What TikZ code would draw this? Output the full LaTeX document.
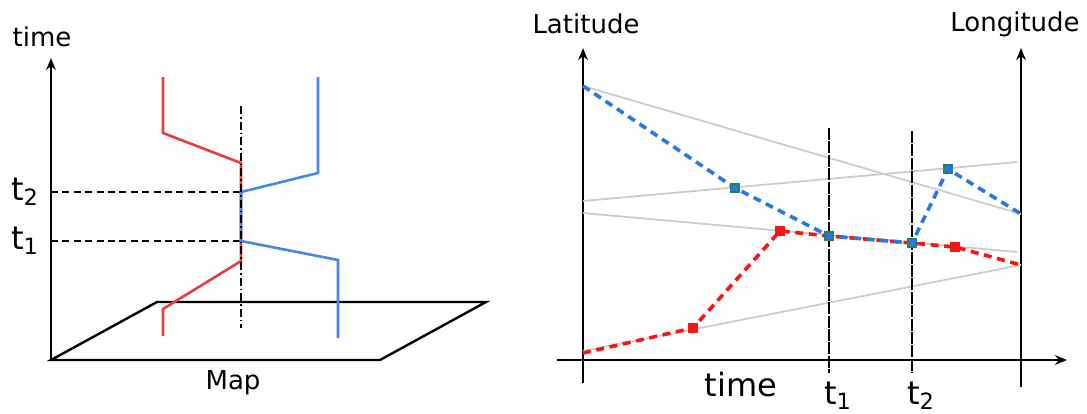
\documentclass[tikz,border=0pt]{standalone}
\usepackage{xcolor}
\usepackage{fontspec}
\setmainfont{DejaVu Sans}
\usepackage{tikz}
\usetikzlibrary{arrows.meta}

\definecolor{trajred}{RGB}{232,62,58}
\definecolor{trajblue}{RGB}{72,134,232}
\definecolor{ptred}{RGB}{250,20,20}
\definecolor{ptblue}{RGB}{40,120,230}
\definecolor{ptgreen}{RGB}{30,130,110}
\definecolor{track}{RGB}{205,205,205}

\begin{document}
\begin{tikzpicture}[x=0.5pt,y=-0.5pt,
    axis/.style={line width=1.3pt,-{Stealth[length=6pt,width=4.8pt]}},
    mapline/.style={line width=1.2pt},
    level/.style={line width=1.2pt,dash pattern=on 3.5pt off 2.2pt},
    cut/.style={line width=1.2pt,dash pattern=on 6pt off 0.7pt},
    tracegray/.style={line width=0.9pt,track},
    redpath/.style={line width=1.8pt,ptred,dash pattern=on 4pt off 2.8pt},
    bluepath/.style={line width=1.8pt,ptblue,dash pattern=on 4pt off 2.8pt},
    redpt/.style={fill=ptred,inner sep=0pt,minimum size=5pt},
    bluept/.style={draw=ptgreen,fill=ptblue,line width=0.8pt,inner sep=0pt,minimum size=4.2pt},
    lbl/.style={font=\fontsize{13}{15}\selectfont},
    biglbl/.style={font=\fontsize{16}{18}\selectfont}]
\useasboundingbox (0,0) rectangle (1087,413);

% left: space-time view
\coordinate (o) at (51,360);
\draw[mapline] (o) -- (380,360) -- (486,302) -- (157,302) -- cycle;
\draw[axis] (o) -- (51,58) coordinate (otop);
\node[lbl] (timeleft) at (42,37) {time};
\node[lbl] (map) at (233,383) {Map};

\coordinate (lt2) at (241,192);
\coordinate (lt1) at (241,241);
\node[biglbl] (labt2) at (25,192) {t\textsubscript{2}};
\node[biglbl] (labt1) at (25,241) {t\textsubscript{1}};
\draw[level] (labt2 -| o) -- (lt2);
\draw[level] (labt1 -| o) -- (lt1);

\draw[trajred,line width=1.3pt] (163,77) -- (163,133) -- (241,163) -- (241,261) -- (163,309) -- (163,336);
\draw[trajblue,line width=1.3pt] (318,77) -- (318,173) -- (lt2) -- (lt1) -- (338,260) -- (338,338);
\draw[line width=0.9pt,dash pattern=on 4pt off 1.5pt on 0.8pt off 1.5pt] (241,106) -- (241,328);

% right: latitude / longitude over time
\draw[axis] (583,383) -- (583,48) coordinate (lattop);
\draw[axis] (1021,387) -- (1021,48) coordinate (lontop);
\draw[axis] (557,360) -- (1067,360);
\node[lbl] (lat) at (586,24) {Latitude};
\node[lbl] (lon) at (1015,24) {Longitude};
\node[biglbl] (timeright) at (741,385) {time};

\draw[tracegray] (583,86) -- (1021,214);
\draw[tracegray] (583,201) -- (1017,162);
\draw[tracegray] (583,213) -- (1017,252);
\draw[tracegray] (583,351) -- (1021,265);

\draw[cut] (829,128) -- (829,373);
\draw[cut] (912,131) -- (912,373);
\node[biglbl] (rt1) at (838,396) {t\textsubscript{1}};
\node[biglbl] (rt2) at (921,396) {t\textsubscript{2}};

\coordinate (m1) at (829,236);
\coordinate (m2) at (912,243);
\draw[redpath] (583,353) -- (693,328) -- (780,231) -- (m1) -- (m2) -- (955,247) -- (1021,265);
\draw[bluepath] (583,86) -- (735,188) -- (m1) -- (m2) -- (948,169) -- (1021,214);

\node[redpt] (r1) at (693,328) {};
\node[redpt] (r2) at (780,231) {};
\node[redpt] (r3) at (955,247) {};
\node[bluept] (b1) at (735,188) {};
\node[bluept] (b2) at (m1) {};
\node[bluept] (b3) at (m2) {};
\node[bluept] (b4) at (948,169) {};
\end{tikzpicture}
\end{document}
